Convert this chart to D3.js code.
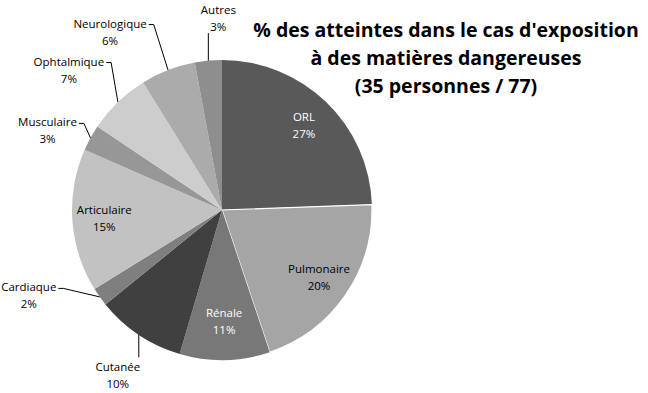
<!DOCTYPE html>
<html><head><meta charset="utf-8">
<script src="https://cdn.jsdelivr.net/npm/d3@7"></script>
<style>body{margin:0;background:#fff}svg{display:block}</style>
</head><body>
<svg id="c" width="648" height="393"></svg>
<script>
const categories = ["ORL","Pulmonaire","Rénale","Cutanée","Cardiaque","Articulaire","Musculaire","Ophtalmique","Neurologique","Autres"];
const shares = [24.4, 20.4, 9.7, 9.6, 2.0, 15.4, 2.8, 6.8, 5.9, 2.9];
const pctLabels = ["27%","20%","11%","10%","2%","15%","3%","7%","6%","3%"];
const titleLines = ["% des atteintes dans le cas d'exposition","à des matières dangereuses","(35 personnes / 77)"];

const colors = ["#595959","#a5a5a5","#787878","#404040","#7f7f7f","#c2c2c2","#979797","#cdcdcd","#ababab","#8e8e8e"];
const layout = {
  "ORL":{inside:true, fill:"#fff"},
  "Pulmonaire":{inside:true, fill:"#000"},
  "Rénale":{inside:true, fill:"#fff", r:111},
  "Articulaire":{inside:true, fill:"#000"},
  "Cutanée":{nudge:[-21,41], lead:"bottom"},
  "Cardiaque":{nudge:[-71,-1], lead:"left"},
  "Musculaire":{nudge:[-43,-7], lead:"left"},
  "Ophtalmique":{nudge:[-49,-32], lead:"left"},
  "Neurologique":{nudge:[-58,-38], lead:"left"},
  "Autres":{nudge:[10,-42], lead:"top"}
};

const svg = d3.select("#c");
const cx = 222, cy = 210, R = 150;
const font = "'Open Sans', sans-serif";
const g = svg.append("g").attr("transform",`translate(${cx},${cy})`);
const data = categories.map((c,i)=>({name:c, value:shares[i], pct:pctLabels[i], color:colors[i]}));
const pie = d3.pie().value(d=>d.value).sort(null);
const arcs = pie(data);
const arc = d3.arc().innerRadius(0).outerRadius(R);

g.selectAll("path").data(arcs).join("path")
  .attr("d", arc)
  .attr("fill", d=>d.data.color)
  .attr("stroke", d=>d.data.name==="Pulmonaire" ? "#fff" : "none")
  .attr("stroke-width", 1.2);

const fs = 11.5, lh = 17;
arcs.forEach(a=>{
  const L = layout[a.data.name];
  const mid = (a.startAngle + a.endAngle)/2;
  if (L.inside) {
    const r = L.r || 118;
    const x = r*Math.sin(mid), y = -r*Math.cos(mid);
    const t = g.append("text").attr("text-anchor","middle").attr("font-family",font).attr("font-size",fs).attr("fill",L.fill);
    t.append("tspan").attr("x",x).attr("y",y - lh/2).attr("dy","0.35em").text(a.data.name);
    t.append("tspan").attr("x",x).attr("y",y + lh/2).attr("dy","0.35em").text(a.data.pct);
  } else {
    const px = R*Math.sin(mid), py = -R*Math.cos(mid);
    const lx = px + L.nudge[0], ly = py + L.nudge[1];
    const t = g.append("text").attr("text-anchor","middle").attr("font-family",font).attr("font-size",fs).attr("fill","#000");
    const n = t.append("tspan").attr("x",lx).attr("y",ly - lh/2).attr("dy","0.35em").text(a.data.name);
    t.append("tspan").attr("x",lx).attr("y",ly + lh/2).attr("dy","0.35em").text(a.data.pct);
    const w = n.node().getComputedTextLength();
    let pts;
    if (L.lead === "left") {
      const ax = lx + w/2 + 2, ay = ly - lh/2 + 1;
      pts = [[ax,ay],[ax+5,ay],[px,py]];
    } else if (L.lead === "top") {
      pts = [[px, ly + lh/2 + 6],[px,py]];
    } else {
      pts = [[px, ly - lh/2 - 10],[px,py]];
    }
    g.append("path").attr("d", d3.line()(pts)).attr("fill","none").attr("stroke","#000").attr("stroke-width",1);
  }
});

const tt = svg.append("text").attr("text-anchor","middle").attr("font-family",font).attr("font-weight","bold").attr("font-size",19.5).attr("fill","#000");
titleLines.forEach((s,i)=>{
  tt.append("tspan").attr("x",446).attr("y",37 + i*28).text(s);
});
</script>
</body></html>
